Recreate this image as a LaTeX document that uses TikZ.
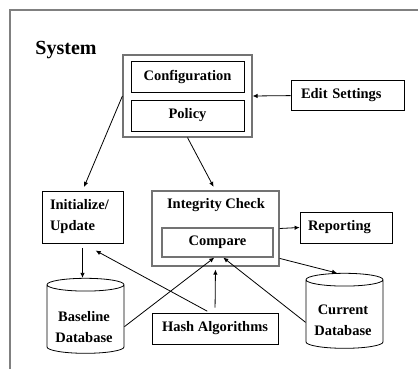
\documentclass[tikz,border=0pt]{standalone}
\usepackage{fontspec}
\setmainfont{Liberation Serif}
\usetikzlibrary{shapes.geometric,arrows.meta}

\tikzset{
  txt/.style={font=\fontsize{14.5}{21}\selectfont\bfseries,align=center},
  blk/.style={txt,draw,line width=0.8pt},
  grayblk/.style={blk,draw=black!55,line width=1.2pt},
  db/.style={txt,draw,line width=0.8pt,cylinder,shape border rotate=90,aspect=0.2,
    minimum width=77pt,minimum height=75pt},
}

\begin{document}
\begin{tikzpicture}[x=1pt,y=-1pt]

      \useasboundingbox (0,0) rectangle (419,369);
      \draw[black!50,line width=1.2pt] (10,369) -- (10,10) -- (418,10);

      \node (sys) at (66,50) {\fontsize{20}{24}\selectfont\bfseries System};

      \begin{scope}[every node/.style={blk,inner sep=0pt}]
        \node[grayblk,minimum width=129pt,minimum height=82pt] (setbox) at (187.5,96) {};
        \node[minimum width=113pt,minimum height=31pt] (conf)   at (187.5,76.5) {Configuration};
        \node[minimum width=113pt,minimum height=31pt] (policy) at (187.5,115.5) {Policy};
        \node[text width=93pt,inner xsep=10pt,minimum height=30pt,align=left] (edit) at (347.5,95) {Edit Settings};
        \node[text width=65pt,inner xsep=8pt,minimum height=52pt,align=left] (init) at (82.5,217) {Initialize/\\Update};
        \node[grayblk,minimum width=127pt,minimum height=75pt] (integ) at (215.5,228.5) {};
        \node[grayblk,minimum width=111pt,minimum height=29pt] (compare) at (217.5,242.5) {Compare};
        \node[text width=76pt,inner xsep=8pt,minimum height=31pt,align=left] (report) at (346,227.5) {Reporting};
        \node[minimum width=126pt,minimum height=31pt] (hash) at (215,328.5) {Hash Algorithms};
      \end{scope}

      \node[db] (baseline) at (85.5,320.5) {\phantom{Baseline}\\\phantom{Database}};
      \node[db] (current)  at (344.5,315.5) {\phantom{Current}\\\phantom{Database}};

      % texts without frame
      \node[txt] (integtxt)    at (216,205)   {Integrity Check};
      \node[txt] (baselinetxt) at (84,327)    {Baseline\\Database};
      \node[txt] (currenttxt)  at (343,320)   {Current\\Database};

      \begin{scope}[every edge/.style={draw,line width=0.8pt,-{Latex[length=5pt,width=4.5pt]}}]
        \path (edit)        edge (setbox.east);
        \path (setbox.west) edge[shorten >=4pt] (init.north);
        \path (setbox.south) edge[shorten >=4pt] (integ.north);
        \path (integ.east)  edge (report.west);
        \path (init.south)  edge[shorten <=5pt] (init.south |- baseline.north);
        \path (baseline.-9) edge (compare.-102);
        \path (current.190) edge (compare.-69);
        \path (hash.north)  edge[shorten <=5pt,shorten >=3pt] (integ.south);
        \path (hash.108)    edge[shorten <=3pt,shorten >=15pt] (init.south);
        \path (integ.-25)   edge (current.100);
      \end{scope}

    \end{tikzpicture}
\end{document}
